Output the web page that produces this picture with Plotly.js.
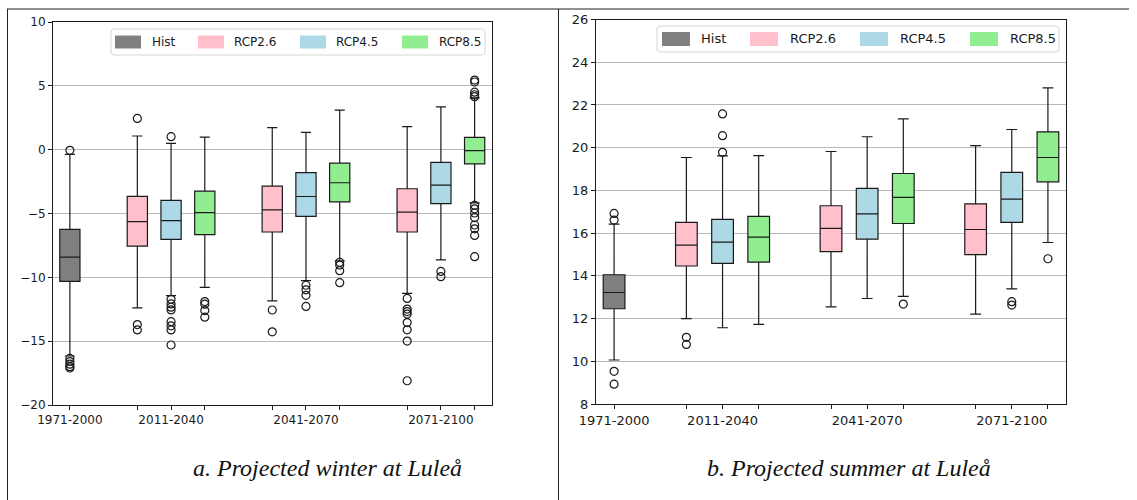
<!DOCTYPE html>
<html>
<head>
<meta charset="utf-8">
<script src="https://cdn.plot.ly/plotly-3.0.1.min.js"></script>
<style>
  html, body { margin: 0; padding: 0; background: #fff; }
  #chart { width: 1137px; height: 500px; }
</style>
</head>
<body>
<div id="chart"></div>
<script>
// ---------- DATA ----------
const periods = ['1971-2000', '2011-2040', '2041-2070', '2071-2100'];
const seriesNames = ['Hist', 'RCP2.6', 'RCP4.5', 'RCP8.5'];
const captions = ['a. Projected winter at Luleå', 'b. Projected summer at Luleå'];

// five-number summaries: [lower whisker, Q1, median, Q3, upper whisker]
const winterHist  = [[-16.16, -10.31, -8.41, -6.24, -0.37]];
const winterRCP26 = [[-12.40, -7.55, -5.64, -3.66, 1.07],
                     [-11.85, -6.45, -4.72, -2.86, 1.72],
                     [-11.25, -6.45, -4.89, -3.06, 1.80]];
const winterRCP45 = [[-11.44, -7.02, -5.56, -3.97, 0.50],
                     [-10.25, -5.23, -3.67, -1.80, 1.36],
                     [-8.64, -4.23, -2.77, -1.00, 3.35]];
const winterRCP85 = [[-10.78, -6.66, -4.93, -3.24, 0.99],
                     [-8.70, -4.09, -2.59, -1.06, 3.10],
                     [-4.17, -1.11, -0.07, 0.96, 4.05]];

const winterHistOut  = [[-0.05, -16.35, -16.60, -16.80, -17.00, -17.10]];
const winterRCP26Out = [[2.45, -13.70, -14.12],
                        [-12.56, -14.27],
                        [-11.65, -12.49, -12.68, -12.88, -13.54, -14.11, -14.99, -18.10]];
const winterRCP45Out = [[1.02, -11.72, -12.08, -12.34, -12.55, -13.47, -13.80, -14.12, -15.30],
                        [-10.62, -10.98, -11.41, -12.28],
                        [-9.54, -9.95]];
const winterRCP85Out = [[-11.90, -12.10, -12.60, -13.12],
                        [-8.82, -9.04, -9.48, -10.42],
                        [5.45, 5.30, 4.50, 4.30, 4.15, -4.36, -4.63, -4.96, -5.32, -5.90, -6.20, -6.72, -8.38]];

const summerHist  = [[10.06, 12.46, 13.22, 14.05, 16.42]];
const summerRCP26 = [[12.00, 14.46, 15.44, 16.50, 19.54],
                     [12.55, 15.13, 16.22, 17.28, 19.82],
                     [12.21, 14.99, 16.17, 17.37, 20.10]];
const summerRCP45 = [[11.57, 14.58, 15.58, 16.64, 19.62],
                     [12.94, 15.72, 16.90, 18.09, 20.51],
                     [13.39, 16.50, 17.59, 18.84, 20.85]];
const summerRCP85 = [[11.73, 14.64, 15.81, 16.78, 19.63],
                     [13.04, 16.45, 17.67, 18.79, 21.35],
                     [15.56, 18.40, 19.54, 20.74, 22.80]];

const summerHistOut  = [[16.92, 16.61, 9.53, 8.93]];
const summerRCP26Out = [[11.12, 10.79], [], []];
const summerRCP45Out = [[21.58, 20.56, 19.78], [], [12.79, 12.63]];
const summerRCP85Out = [[], [12.68], [14.80]];

// ---------- STYLE / LAYOUT ----------
const colors = ['#808080', '#FFC0CB', '#ADD8E6', '#90EE90'];
const W = 1137, H = 500;
const px = v => v / W;
const py = v => 1 - v / H;

// box positions: hist at 0, then groups of three centred at 3, 7, 11
const histPos = [0];
const scenPos = k => [2 + k, 6 + k, 10 + k];
const tickVals = [0, 2, 3, 4, 6, 7, 8, 10, 11, 12];
const labelAt = { 0: 0, 3: 1, 7: 2, 11: 3 };
const tickText = tickVals.map(v => (v in labelAt) ? periods[labelAt[v]] : '');

function boxTrace(stats, xs, color, xa, ya) {
  return {
    type: 'box', orientation: 'v', x: xs,
    lowerfence: stats.map(s => s[0]), q1: stats.map(s => s[1]),
    median: stats.map(s => s[2]), q3: stats.map(s => s[3]),
    upperfence: stats.map(s => s[4]),
    fillcolor: color, line: { color: '#1a1a1a', width: 1.2 },
    width: 0.6, whiskerwidth: 0.5, boxpoints: false,
    xaxis: xa, yaxis: ya, showlegend: false, hoverinfo: 'skip'
  };
}
function outTrace(outs, xs, xa, ya) {
  const x = [], y = [];
  outs.forEach((arr, i) => arr.forEach(v => { x.push(xs[i]); y.push(v); }));
  return {
    type: 'scatter', mode: 'markers', x, y, xaxis: xa, yaxis: ya,
    marker: { symbol: 'circle-open', size: 8, color: '#1a1a1a', line: { width: 1.2, color: '#1a1a1a' } },
    showlegend: false, hoverinfo: 'skip'
  };
}

const winter = [winterHist, winterRCP26, winterRCP45, winterRCP85];
const winterOut = [winterHistOut, winterRCP26Out, winterRCP45Out, winterRCP85Out];
const summer = [summerHist, summerRCP26, summerRCP45, summerRCP85];
const summerOut = [summerHistOut, summerRCP26Out, summerRCP45Out, summerRCP85Out];

const traces = [];
[[winter, winterOut, 'x', 'y'], [summer, summerOut, 'x2', 'y2']].forEach(([d, o, xa, ya]) => {
  d.forEach((stats, i) => {
    const xs = i === 0 ? histPos : scenPos(i - 1);
    traces.push(boxTrace(stats, xs, colors[i], xa, ya));
    traces.push(outTrace(o[i], xs, xa, ya));
  });
});

function xAxis(dom, anchor, fs) {
  return {
    domain: dom, anchor, range: [-0.5, 12.5], tickmode: 'array', tickvals: tickVals, ticktext: tickText,
    ticks: 'outside', ticklen: 4, tickwidth: 1, tickcolor: '#1a1a1a', showline: true, mirror: true,
    linecolor: '#1a1a1a', linewidth: 1, showgrid: false, zeroline: false,
    tickfont: { family: 'DejaVu Sans', size: fs, color: '#1a1a1a' }, fixedrange: true
  };
}
function yAxis(dom, anchor, range, dtick, fs) {
  return {
    domain: dom, anchor, range, tick0: 0, dtick, ticks: 'outside', ticklen: 4, tickwidth: 1,
    tickcolor: '#1a1a1a', showline: true, mirror: true, linecolor: '#1a1a1a', linewidth: 1,
    showgrid: true, gridcolor: '#b8b8b8', gridwidth: 1, zeroline: false,
    tickfont: { family: 'DejaVu Sans', size: fs, color: '#1a1a1a' }, fixedrange: true
  };
}

// manual matplotlib-style legends (pixel layout of each panel's legend)
const legendBoxes = [
  { x0: 111, x1: 485, y0: 29, y1: 55, patchX: [115, 198, 300, 402], pw: 26, ph: 13, textX: [150, 232, 334, 437], fs: 12 },
  { x0: 657, x1: 1059, y0: 26, y1: 52, patchX: [662, 750, 860, 970], pw: 28, ph: 14, textX: [699, 788, 898, 1008], fs: 13 }
];
function roundRect(x0, y0, x1, y1, r) {
  const X = v => px(v).toFixed(5), Y = v => py(v).toFixed(5);
  return 'M' + X(x0 + r) + ',' + Y(y0) + ' L' + X(x1 - r) + ',' + Y(y0) +
    ' Q' + X(x1) + ',' + Y(y0) + ' ' + X(x1) + ',' + Y(y0 + r) +
    ' L' + X(x1) + ',' + Y(y1 - r) + ' Q' + X(x1) + ',' + Y(y1) + ' ' + X(x1 - r) + ',' + Y(y1) +
    ' L' + X(x0 + r) + ',' + Y(y1) + ' Q' + X(x0) + ',' + Y(y1) + ' ' + X(x0) + ',' + Y(y1 - r) +
    ' L' + X(x0) + ',' + Y(y0 + r) + ' Q' + X(x0) + ',' + Y(y0) + ' ' + X(x0 + r) + ',' + Y(y0) + ' Z';
}

const lineStyle = { color: '#222', width: 1 };
const shapes = [
  { type: 'line', xref: 'paper', yref: 'paper', x0: px(7), x1: px(1129), y0: py(9), y1: py(9), line: lineStyle },
  { type: 'line', xref: 'paper', yref: 'paper', x0: px(7.5), x1: px(7.5), y0: py(9), y1: py(500), line: lineStyle },
  { type: 'line', xref: 'paper', yref: 'paper', x0: px(558.5), x1: px(558.5), y0: py(9), y1: py(500), line: lineStyle }
];
const annotations = [];
legendBoxes.forEach(lb => {
  shapes.push({ type: 'path', xref: 'paper', yref: 'paper', path: roundRect(lb.x0, lb.y0, lb.x1, lb.y1, 3),
    fillcolor: 'rgba(255,255,255,0.8)', line: { color: '#d6d6d6', width: 1 } });
  const yc = (lb.y0 + lb.y1) / 2;
  seriesNames.forEach((n, i) => {
    shapes.push({ type: 'rect', xref: 'paper', yref: 'paper', x0: px(lb.patchX[i]), x1: px(lb.patchX[i] + lb.pw),
      y0: py(yc - lb.ph / 2), y1: py(yc + lb.ph / 2), fillcolor: colors[i], line: { width: 0 } });
    annotations.push({ xref: 'paper', yref: 'paper', x: px(lb.textX[i]), y: py(yc), text: n, showarrow: false,
      xanchor: 'left', yanchor: 'middle', font: { family: 'DejaVu Sans', size: lb.fs, color: '#1a1a1a' } });
  });
});
[[327, captions[0]], [849, captions[1]]].forEach(([cx, t]) => {
  annotations.push({ xref: 'paper', yref: 'paper', x: px(cx), y: py(468), text: '<i>' + t + '</i>', showarrow: false,
    font: { family: 'Liberation Serif', size: 24, color: '#111' }, xanchor: 'center', yanchor: 'middle' });
});

const layout = {
  width: W, height: H, margin: { l: 0, r: 0, t: 0, b: 0 }, paper_bgcolor: '#fff', plot_bgcolor: '#fff',
  showlegend: false, boxmode: 'overlay',
  xaxis: xAxis([px(53), px(491.5)], 'y', 12),
  yaxis: yAxis([py(405), py(22)], 'x', [-20, 10], 5, 12),
  xaxis2: xAxis([px(596), px(1066)], 'y2', 13),
  yaxis2: yAxis([py(404), py(19.5)], 'x2', [8, 26], 2, 13),
  shapes, annotations
};

Plotly.newPlot('chart', traces, layout, { displayModeBar: false, staticPlot: true });
</script>
</body>
</html>
